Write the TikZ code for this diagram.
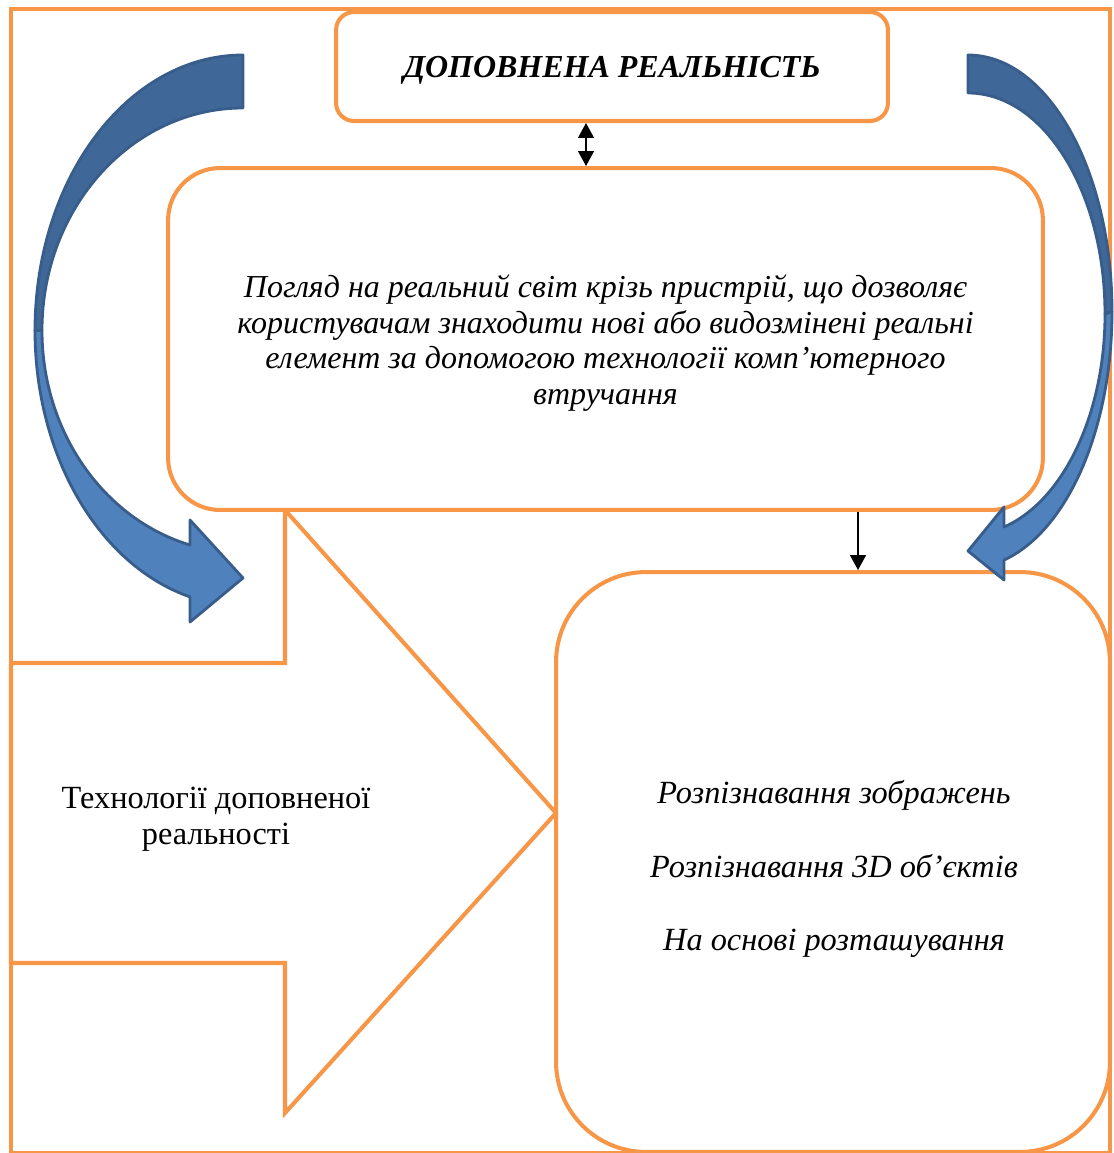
\documentclass[tikz,border=0pt]{standalone}
\usepackage{fontspec}
\setmainfont{Liberation Serif}
\usetikzlibrary{arrows.meta}

\definecolor{arorange}{HTML}{F79646}
\definecolor{arblue}{HTML}{4F81BD}
\definecolor{arbluedark}{HTML}{3F6797}
\definecolor{arblueline}{HTML}{385D8A}

\tikzset{
  orline/.style={draw=arorange, line width=2.3pt},
  arbox/.style={orline, fill=white, rounded corners=#1, inner sep=0pt},
  artext/.style={font=\fontsize{18.2}{20.4}\selectfont\itshape, align=center},
  blueback/.style={fill=arbluedark, draw=arblueline, line width=1.6pt, line join=round},
  bluefront/.style={fill=arblue, draw=arblueline, line width=1.6pt, line join=round},
  link/.style={line width=1pt}
}

\begin{document}
\begin{tikzpicture}[x=0.02cm, y=-0.02cm, >={Triangle[width=9pt,length=8.5pt]}]
\useasboundingbox (0,0) rectangle (1114,1153);

\draw[orline] (11,9) rectangle (1110,1153);

% block arrow
\draw[orline, fill=white] (11,663) -- (285,663) -- (285,510) -- (556,813)
  -- (285,1113) -- (285,963) -- (11,963) -- cycle;
\node[font=\fontsize{18.4}{20.4}\selectfont, align=center] (tech) at (216,819)
  {Технології доповненої\\реальності};

\node[arbox=0.36cm, minimum width=11.04cm, minimum height=2.18cm, text depth=0pt] (ar) at (612,66.5)
  {\fontsize{18.2}{20.4}\selectfont\bfseries\itshape ДОПОВНЕНА РЕАЛЬНІСТЬ};

\node[arbox=1.04cm, minimum width=17.5cm, minimum height=6.84cm] (def) at (605.5,339) {};
\node[artext] (deftext) at (605.5,343)
  {Погляд на реальний світ крізь пристрій, що дозволяє\\
   користувачам знаходити нові або видозмінені реальні\\
   елемент за допомогою технології комп’ютерного\\
   втручання};

\node[arbox=1.8cm, minimum width=11.08cm, minimum height=11.6cm] (types) at (833,862) {};
\node[artext, font=\fontsize{18.4}{20.4}\selectfont\itshape] (typelist) at (834,869)
  {Розпізнавання зображень\\[21.6pt]
   Розпізнавання 3D об’єктів\\[21.6pt]
   На основі розташування};

\coordinate (dx) at (586,0);
\coordinate (dn) at (858,0);
\draw[link, <->] (ar.south -| dx) -- (def.north -| dx);
\draw[link, ->] (def.south -| dn) -- (types.north -| dn);

% curved arrows
\draw[blueback] (243,55) arc[start angle=270, end angle=180, x radius=208, y radius=275.5]
  -- (42,330.4) arc[start angle=180, end angle=270, x radius=201, y radius=222.4] -- cycle;
\draw[bluefront] (35,330.5) arc[start angle=180, end angle=104.76, x radius=208, y radius=275.5]
  -- (190,622) -- (243,578) -- (190,520) -- (190,545)
  arc[start angle=105.29, end angle=180, x radius=201, y radius=222.4] -- cycle;

\draw[blueback] (968,55) arc[start angle=-90, end angle=0, x radius=144, y radius=256.6]
  -- (1105,313.9) arc[start angle=0, end angle=-90, x radius=137, y radius=220.9] -- cycle;
\draw[bluefront] (1112,311.6) arc[start angle=0, end angle=75.5, x radius=144, y radius=256.6]
  -- (1004,580) -- (968,551) -- (1004,507) -- (1004,527)
  arc[start angle=74.77, end angle=0, x radius=137, y radius=220.9] -- cycle;
\end{tikzpicture}
\end{document}
